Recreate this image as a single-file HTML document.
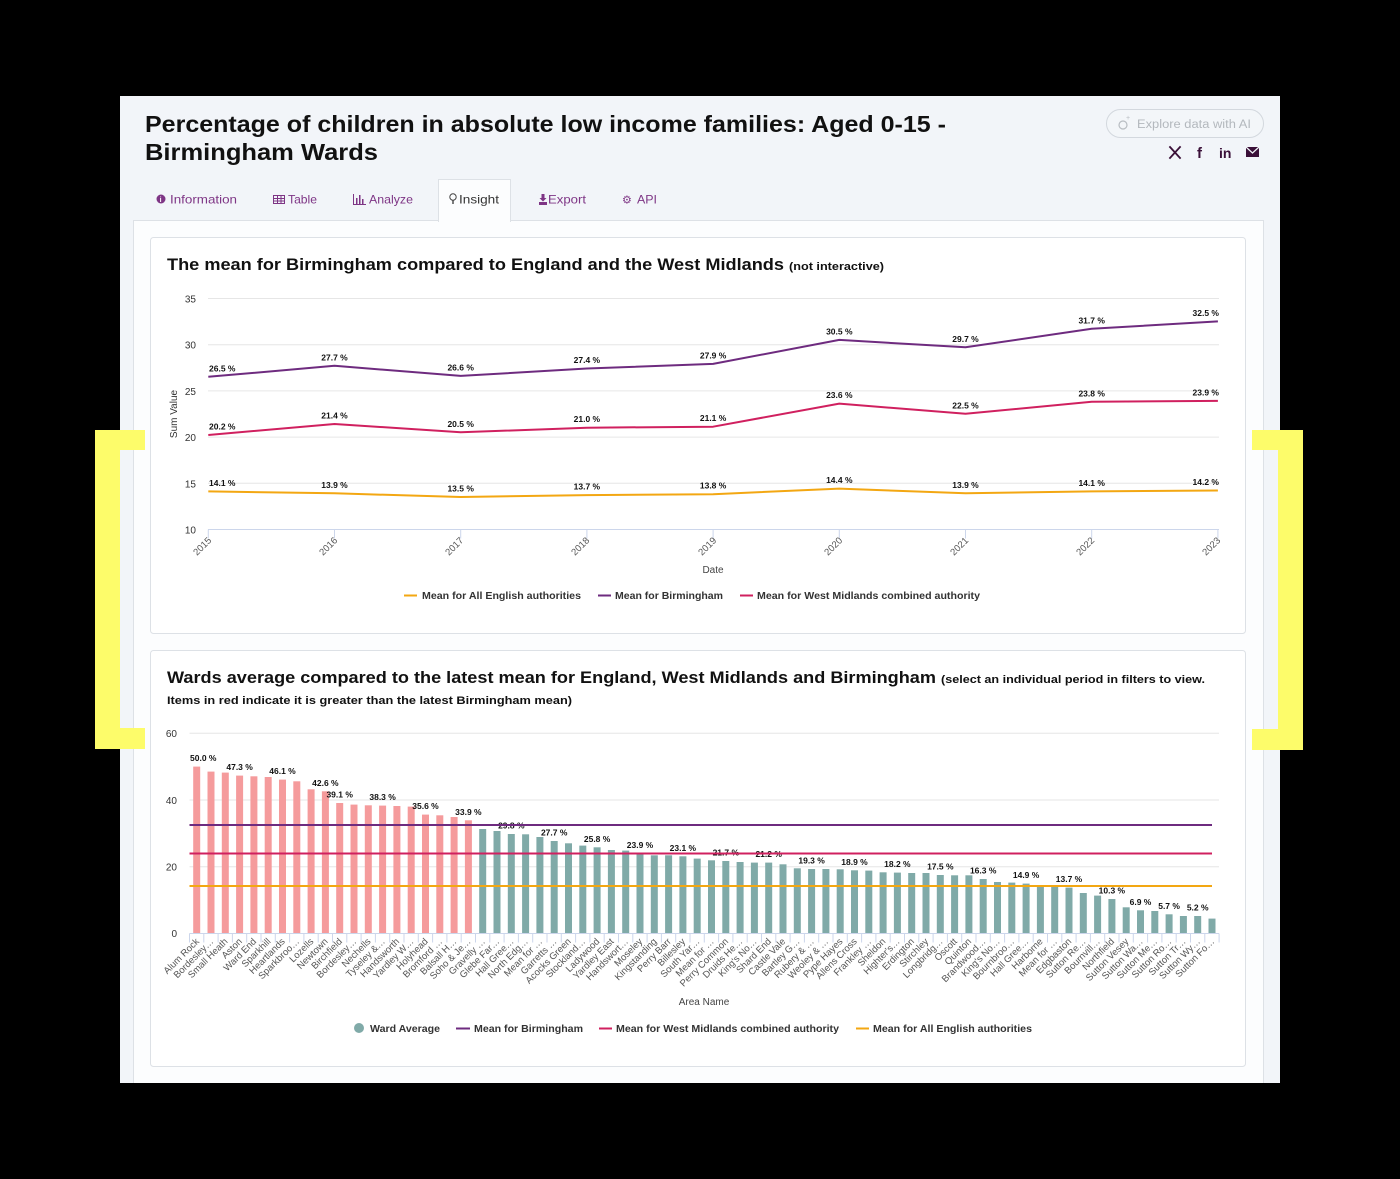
<!DOCTYPE html>
<html><head><meta charset="utf-8"><style>
html,body{margin:0;padding:0;background:#000;}
svg{display:block;}
</style></head><body>
<svg width="1400" height="1179" viewBox="0 0 1400 1179" xmlns="http://www.w3.org/2000/svg" font-family="'Liberation Sans', Arial, sans-serif">
<rect x="0" y="0" width="1400" height="1179" fill="#000"/>
<!-- main panel -->
<rect x="120" y="96" width="1160" height="987" fill="#f2f5f9"/>
<!-- content box -->
<rect x="133.5" y="220.5" width="1130" height="880" fill="#fcfdfe" stroke="#dde1e6"/>
<!-- active tab -->
<rect x="438.5" y="179.5" width="72" height="42" fill="#fcfdfe" stroke="#dde1e6"/>
<rect x="439" y="219" width="71" height="4" fill="#fcfdfe"/>

<!-- title -->
<text x="145" y="132" font-size="23" font-weight="bold" fill="#111" textLength="801" lengthAdjust="spacingAndGlyphs">Percentage of children in absolute low income families: Aged 0-15 -</text>
<text x="145" y="160" font-size="23" font-weight="bold" fill="#111" textLength="233" lengthAdjust="spacingAndGlyphs">Birmingham Wards</text>

<!-- explore button -->
<rect x="1106.5" y="109.5" width="157" height="28" rx="14" fill="#f3f6f9" stroke="#d3d8de"/>
<circle cx="1123" cy="125" r="4" fill="none" stroke="#b8bdc2" stroke-width="1.2"/>
<text x="1126" y="120" font-size="7" fill="#b8bdc2">+</text>
<text x="1137" y="128" font-size="11.5" fill="#b3b8bd" textLength="114" lengthAdjust="spacingAndGlyphs">Explore data with AI</text>

<!-- social icons -->
<g stroke="#3a1038" stroke-width="1.8" stroke-linecap="square">
<line x1="1170" y1="147" x2="1180" y2="158"/>
<line x1="1180" y1="147" x2="1170" y2="158"/>
</g>
<text x="1197" y="158" font-size="15" font-weight="bold" fill="#3a1038">f</text>
<text x="1219" y="158" font-size="14" font-weight="bold" fill="#3a1038">in</text>
<rect x="1246" y="147" width="13" height="10" fill="#3a1038"/>
<path d="M1246,147 L1252.5,153 L1259,147" fill="none" stroke="#f2f5f9" stroke-width="1.2"/>

<!-- tabs -->
<g font-size="12" fill="#7e3585">
<circle cx="161" cy="199" r="4.5" fill="#7e3585"/>
<text x="159.6" y="202" font-size="7" font-weight="bold" fill="#fff">i</text>
<text x="170" y="203.5" textLength="67" lengthAdjust="spacingAndGlyphs">Information</text>
<rect x="273.5" y="195.5" width="11" height="8" fill="none" stroke="#7e3585"/>
<line x1="273.5" y1="198.5" x2="284.5" y2="198.5" stroke="#7e3585"/>
<line x1="273.5" y1="201" x2="284.5" y2="201" stroke="#7e3585"/>
<line x1="277.5" y1="195.5" x2="277.5" y2="203.5" stroke="#7e3585"/>
<line x1="281" y1="195.5" x2="281" y2="203.5" stroke="#7e3585"/>
<text x="288" y="203.5" textLength="29" lengthAdjust="spacingAndGlyphs">Table</text>
<path d="M353.5,194 V204.5 H366" fill="none" stroke="#7e3585"/>
<rect x="356" y="198" width="1.5" height="6" fill="#7e3585"/>
<rect x="359" y="195" width="1.5" height="9" fill="#7e3585"/>
<rect x="362" y="199" width="1.5" height="5" fill="#7e3585"/>
<text x="369" y="203.5" textLength="44" lengthAdjust="spacingAndGlyphs">Analyze</text>
<text x="548" y="203.5" textLength="38" lengthAdjust="spacingAndGlyphs">Export</text>
<path d="M539,202 H547 V205 H539 Z" fill="#7e3585"/>
<path d="M541.5,194 H544.5 V198 H546.5 L543,201.5 L539.5,198 H541.5 Z" fill="#7e3585"/>
<text x="622" y="203.5" font-family="'DejaVu Sans', sans-serif" font-size="11">⚙</text>
<text x="637" y="203.5" textLength="20" lengthAdjust="spacingAndGlyphs">API</text>
</g>
<circle cx="453" cy="197" r="3.2" fill="none" stroke="#444" stroke-width="1"/>
<line x1="453" y1="200.5" x2="453" y2="204" stroke="#444" stroke-width="1.4"/>
<text x="459" y="203.5" font-size="12" fill="#333" textLength="40" lengthAdjust="spacingAndGlyphs">Insight</text>

<!-- ============ CARD 1 ============ -->
<rect x="150.5" y="237.5" width="1095" height="396" rx="3" fill="#fff" stroke="#dde1e6"/>
<text x="167" y="270" font-size="16.5" font-weight="bold" fill="#111" textLength="617" lengthAdjust="spacingAndGlyphs">The mean for Birmingham compared to England and the West Midlands</text>
<text x="789" y="270" font-size="11" font-weight="bold" fill="#111" textLength="95" lengthAdjust="spacingAndGlyphs">(not interactive)</text>

<!-- gridlines -->
<g stroke="#e6e6e6" stroke-width="1">
<line x1="208" y1="298.5" x2="1219" y2="298.5"/>
<line x1="208" y1="344.7" x2="1219" y2="344.7"/>
<line x1="208" y1="390.9" x2="1219" y2="390.9"/>
<line x1="208" y1="437.1" x2="1219" y2="437.1"/>
<line x1="208" y1="483.3" x2="1219" y2="483.3"/>
</g>
<line x1="208" y1="529.5" x2="1219" y2="529.5" stroke="#ccd6eb"/>
<line x1="207.8" y1="534" x2="1220" y2="534" stroke="#ccd6eb" stroke-width="9" stroke-dasharray="1 125.2"/>

<g font-size="10" fill="#333" text-anchor="end">
<text x="196" y="302.5">35</text>
<text x="196" y="348.7">30</text>
<text x="196" y="394.9">25</text>
<text x="196" y="441.1">20</text>
<text x="196" y="487.3">15</text>
<text x="196" y="533.5">10</text>
</g>
<text transform="translate(177,414) rotate(-90)" font-size="10" fill="#333" text-anchor="middle">Sum Value</text>

<g font-size="9.5" fill="#555" text-anchor="end">
<text transform="translate(212,541) rotate(-45)">2015</text>
<text transform="translate(338,541) rotate(-45)">2016</text>
<text transform="translate(464,541) rotate(-45)">2017</text>
<text transform="translate(590,541) rotate(-45)">2018</text>
<text transform="translate(717,541) rotate(-45)">2019</text>
<text transform="translate(843,541) rotate(-45)">2020</text>
<text transform="translate(969,541) rotate(-45)">2021</text>
<text transform="translate(1095,541) rotate(-45)">2022</text>
<text transform="translate(1221,541) rotate(-45)">2023</text>
</g>
<text x="713" y="573" font-size="10" fill="#444" text-anchor="middle">Date</text>

<!-- series lines -->
<polyline fill="none" stroke="#6e2b7f" stroke-width="2" stroke-linejoin="round" points="208.3,376.8 334.5,365.8 460.7,375.9 586.9,368.5 713.1,363.9 839.3,339.9 965.5,347.3 1091.7,328.8 1217.9,321.4"/>
<polyline fill="none" stroke="#d0205f" stroke-width="2" stroke-linejoin="round" points="208.3,435.0 334.5,424.0 460.7,432.3 586.9,427.7 713.1,426.7 839.3,403.6 965.5,413.8 1091.7,401.8 1217.9,400.9"/>
<polyline fill="none" stroke="#f3a712" stroke-width="2" stroke-linejoin="round" points="208.3,491.4 334.5,493.3 460.7,497.0 586.9,495.1 713.1,494.2 839.3,488.6 965.5,493.3 1091.7,491.4 1217.9,490.5"/>

<g font-size="8.5" font-weight="bold" fill="#111" text-anchor="middle">
<text x="209" y="371.3" text-anchor="start">26.5 %</text>
<text x="334.5" y="360.3">27.7 %</text>
<text x="460.7" y="370.4">26.6 %</text>
<text x="586.9" y="363.0">27.4 %</text>
<text x="713.1" y="358.4">27.9 %</text>
<text x="839.3" y="334.4">30.5 %</text>
<text x="965.5" y="341.8">29.7 %</text>
<text x="1091.7" y="323.3">31.7 %</text>
<text x="1219" y="315.9" text-anchor="end">32.5 %</text>

<text x="209" y="429.5" text-anchor="start">20.2 %</text>
<text x="334.5" y="418.5">21.4 %</text>
<text x="460.7" y="426.8">20.5 %</text>
<text x="586.9" y="422.2">21.0 %</text>
<text x="713.1" y="421.2">21.1 %</text>
<text x="839.3" y="398.1">23.6 %</text>
<text x="965.5" y="408.3">22.5 %</text>
<text x="1091.7" y="396.3">23.8 %</text>
<text x="1219" y="395.4" text-anchor="end">23.9 %</text>

<text x="209" y="485.9" text-anchor="start">14.1 %</text>
<text x="334.5" y="487.8">13.9 %</text>
<text x="460.7" y="491.5">13.5 %</text>
<text x="586.9" y="489.6">13.7 %</text>
<text x="713.1" y="488.7">13.8 %</text>
<text x="839.3" y="483.1">14.4 %</text>
<text x="965.5" y="487.8">13.9 %</text>
<text x="1091.7" y="485.9">14.1 %</text>
<text x="1219" y="485.0" text-anchor="end">14.2 %</text>
</g>

<!-- legend 1 -->
<g font-size="10" font-weight="bold" fill="#333">
<line x1="404" y1="595.5" x2="417" y2="595.5" stroke="#f3a712" stroke-width="2"/>
<text x="422" y="599" textLength="159" lengthAdjust="spacingAndGlyphs">Mean for All English authorities</text>
<line x1="598" y1="595.5" x2="611" y2="595.5" stroke="#6e2b7f" stroke-width="2"/>
<text x="615" y="599" textLength="108" lengthAdjust="spacingAndGlyphs">Mean for Birmingham</text>
<line x1="740" y1="595.5" x2="753" y2="595.5" stroke="#d0205f" stroke-width="2"/>
<text x="757" y="599" textLength="223" lengthAdjust="spacingAndGlyphs">Mean for West Midlands combined authority</text>
</g>

<!-- ============ CARD 2 ============ -->
<rect x="150.5" y="650.5" width="1095" height="416" rx="3" fill="#fff" stroke="#dde1e6"/>
<text x="167" y="683" font-size="16.5" font-weight="bold" fill="#111" textLength="769" lengthAdjust="spacingAndGlyphs">Wards average compared to the latest mean for England, West Midlands and Birmingham</text>
<text x="941" y="683" font-size="11" font-weight="bold" fill="#111" textLength="264" lengthAdjust="spacingAndGlyphs">(select an individual period in filters to view.</text>
<text x="167" y="704" font-size="11" font-weight="bold" fill="#111" textLength="405" lengthAdjust="spacingAndGlyphs">Items in red indicate it is greater than the latest Birmingham mean)</text>

<g stroke="#e6e6e6">
<line x1="189.5" y1="733.3" x2="1219" y2="733.3"/>
<line x1="189.5" y1="800" x2="1219" y2="800"/>
<line x1="189.5" y1="866.7" x2="1219" y2="866.7"/>
</g>
<g font-size="10" fill="#333" text-anchor="end">
<text x="177" y="737">60</text>
<text x="177" y="804">40</text>
<text x="177" y="870.5">20</text>
<text x="177" y="937">0</text>
</g>

<!-- bars -->
<g fill="#f59b9c">
<rect x="193.2" y="766.6" width="7" height="166.7"/>
<rect x="207.5" y="771.6" width="7" height="161.7"/>
<rect x="221.8" y="772.6" width="7" height="160.7"/>
<rect x="236.1" y="775.6" width="7" height="157.7"/>
<rect x="250.4" y="776.3" width="7" height="157.0"/>
<rect x="264.7" y="777.0" width="7" height="156.3"/>
<rect x="279.0" y="779.6" width="7" height="153.7"/>
<rect x="293.3" y="781.3" width="7" height="152.0"/>
<rect x="307.6" y="789.3" width="7" height="144.0"/>
<rect x="321.9" y="791.3" width="7" height="142.0"/>
<rect x="336.2" y="803.0" width="7" height="130.3"/>
<rect x="350.5" y="804.6" width="7" height="128.7"/>
<rect x="364.8" y="805.3" width="7" height="128.0"/>
<rect x="379.1" y="805.6" width="7" height="127.7"/>
<rect x="393.4" y="806.0" width="7" height="127.3"/>
<rect x="407.7" y="806.6" width="7" height="126.7"/>
<rect x="422.0" y="814.6" width="7" height="118.7"/>
<rect x="436.3" y="815.3" width="7" height="118.0"/>
<rect x="450.6" y="817.0" width="7" height="116.3"/>
<rect x="464.9" y="820.3" width="7" height="113.0"/>
</g>
<g fill="#80aaa8">
<rect x="479.2" y="829.0" width="7" height="104.3"/>
<rect x="493.5" y="831.0" width="7" height="102.3"/>
<rect x="507.8" y="834.0" width="7" height="99.3"/>
<rect x="522.1" y="834.3" width="7" height="99.0"/>
<rect x="536.4" y="837.0" width="7" height="96.3"/>
<rect x="550.7" y="841.0" width="7" height="92.3"/>
<rect x="565.0" y="843.3" width="7" height="90.0"/>
<rect x="579.3" y="845.6" width="7" height="87.7"/>
<rect x="593.6" y="847.3" width="7" height="86.0"/>
<rect x="607.9" y="850.0" width="7" height="83.3"/>
<rect x="622.2" y="850.6" width="7" height="82.7"/>
<rect x="636.5" y="853.6" width="7" height="79.7"/>
<rect x="650.8" y="855.3" width="7" height="78.0"/>
<rect x="665.1" y="855.3" width="7" height="78.0"/>
<rect x="679.4" y="856.3" width="7" height="77.0"/>
<rect x="693.7" y="858.6" width="7" height="74.7"/>
<rect x="708.0" y="860.3" width="7" height="73.0"/>
<rect x="722.3" y="861.0" width="7" height="72.3"/>
<rect x="736.6" y="862.0" width="7" height="71.3"/>
<rect x="750.9" y="862.6" width="7" height="70.7"/>
<rect x="765.2" y="862.6" width="7" height="70.7"/>
<rect x="779.5" y="864.3" width="7" height="69.0"/>
<rect x="793.8" y="868.3" width="7" height="65.0"/>
<rect x="808.1" y="869.0" width="7" height="64.3"/>
<rect x="822.4" y="869.0" width="7" height="64.3"/>
<rect x="836.7" y="869.3" width="7" height="64.0"/>
<rect x="851.0" y="870.3" width="7" height="63.0"/>
<rect x="865.3" y="870.6" width="7" height="62.7"/>
<rect x="879.6" y="872.3" width="7" height="61.0"/>
<rect x="893.9" y="872.6" width="7" height="60.7"/>
<rect x="908.2" y="873.0" width="7" height="60.3"/>
<rect x="922.5" y="873.0" width="7" height="60.3"/>
<rect x="936.8" y="875.0" width="7" height="58.3"/>
<rect x="951.1" y="875.3" width="7" height="58.0"/>
<rect x="965.4" y="875.3" width="7" height="58.0"/>
<rect x="979.7" y="879.0" width="7" height="54.3"/>
<rect x="994.0" y="882.0" width="7" height="51.3"/>
<rect x="1008.3" y="882.6" width="7" height="50.7"/>
<rect x="1022.6" y="883.6" width="7" height="49.7"/>
<rect x="1036.9" y="885.3" width="7" height="48.0"/>
<rect x="1051.2" y="886.6" width="7" height="46.7"/>
<rect x="1065.5" y="887.6" width="7" height="45.7"/>
<rect x="1079.8" y="893.0" width="7" height="40.3"/>
<rect x="1094.1" y="895.6" width="7" height="37.7"/>
<rect x="1108.4" y="899.0" width="7" height="34.3"/>
<rect x="1122.7" y="907.3" width="7" height="26.0"/>
<rect x="1137.0" y="910.3" width="7" height="23.0"/>
<rect x="1151.3" y="911.0" width="7" height="22.3"/>
<rect x="1165.6" y="914.3" width="7" height="19.0"/>
<rect x="1179.9" y="916.0" width="7" height="17.3"/>
<rect x="1194.2" y="916.0" width="7" height="17.3"/>
<rect x="1208.5" y="918.6" width="7" height="14.7"/>
</g>

<!-- x axis -->
<line x1="189.5" y1="933.5" x2="1219" y2="933.5" stroke="#ccd6eb"/>
<line x1="189" y1="938" x2="1220" y2="938" stroke="#ccd6eb" stroke-width="9" stroke-dasharray="1 13.3"/>

<!-- bar data labels -->
<g font-size="8.5" font-weight="bold" fill="#111" text-anchor="middle">
<text x="190" y="761" text-anchor="start">50.0 %</text>
<text x="239.6" y="770.1">47.3 %</text>
<text x="282.5" y="774.1">46.1 %</text>
<text x="325.4" y="785.8">42.6 %</text>
<text x="339.7" y="797.5">39.1 %</text>
<text x="382.6" y="800.1">38.3 %</text>
<text x="425.5" y="809.1">35.6 %</text>
<text x="468.4" y="814.8">33.9 %</text>
<text x="511.3" y="828.5">29.8 %</text>
<text x="554.2" y="835.5">27.7 %</text>
<text x="597.1" y="841.8">25.8 %</text>
<text x="640.0" y="848.1">23.9 %</text>
<text x="682.9" y="850.8">23.1 %</text>
<text x="725.8" y="855.5">21.7 %</text>
<text x="768.7" y="857.1">21.2 %</text>
<text x="811.6" y="863.5">19.3 %</text>
<text x="854.5" y="864.8">18.9 %</text>
<text x="897.4" y="867.1">18.2 %</text>
<text x="940.3" y="869.5">17.5 %</text>
<text x="983.2" y="873.5">16.3 %</text>
<text x="1026.1" y="878.1">14.9 %</text>
<text x="1069.0" y="882.1">13.7 %</text>
<text x="1111.9" y="893.5">10.3 %</text>
<text x="1140.5" y="904.8">6.9 %</text>
<text x="1169.1" y="908.8">5.7 %</text>
<text x="1197.7" y="910.5">5.2 %</text>
</g>

<!-- horizontal mean lines -->
<line x1="189.5" y1="825" x2="1212" y2="825" stroke="#6e2b7f" stroke-width="2"/>
<line x1="189.5" y1="853.5" x2="1212" y2="853.5" stroke="#d0205f" stroke-width="2"/>
<line x1="189.5" y1="886" x2="1212" y2="886" stroke="#f3a712" stroke-width="2"/>

<!-- x labels -->
<g font-size="9.5" fill="#555" text-anchor="end">
<text transform="translate(199.7,942) rotate(-45)">Alum Rock</text>
<text transform="translate(214.0,942) rotate(-45)">Bordesley…</text>
<text transform="translate(228.3,942) rotate(-45)">Small Heath</text>
<text transform="translate(242.6,942) rotate(-45)">Aston</text>
<text transform="translate(256.9,942) rotate(-45)">Ward End</text>
<text transform="translate(271.2,942) rotate(-45)">Sparkhill</text>
<text transform="translate(285.5,942) rotate(-45)">Heartlands</text>
<text transform="translate(299.8,942) rotate(-45)">Sparkbroo…</text>
<text transform="translate(314.1,942) rotate(-45)">Lozells</text>
<text transform="translate(328.4,942) rotate(-45)">Newtown</text>
<text transform="translate(342.7,942) rotate(-45)">Birchfield</text>
<text transform="translate(357.0,942) rotate(-45)">Bordesley…</text>
<text transform="translate(371.3,942) rotate(-45)">Nechells</text>
<text transform="translate(385.6,942) rotate(-45)">Tyseley &amp;…</text>
<text transform="translate(399.9,942) rotate(-45)">Handsworth</text>
<text transform="translate(414.2,942) rotate(-45)">Yardley W…</text>
<text transform="translate(428.5,942) rotate(-45)">Holyhead</text>
<text transform="translate(442.8,942) rotate(-45)">Bromford …</text>
<text transform="translate(457.1,942) rotate(-45)">Balsall H…</text>
<text transform="translate(471.4,942) rotate(-45)">Soho &amp; Je…</text>
<text transform="translate(485.7,942) rotate(-45)">Gravelly …</text>
<text transform="translate(500.0,942) rotate(-45)">Glebe Far…</text>
<text transform="translate(514.3,942) rotate(-45)">Hall Gree…</text>
<text transform="translate(528.6,942) rotate(-45)">North Edg…</text>
<text transform="translate(542.9,942) rotate(-45)">Mean for …</text>
<text transform="translate(557.2,942) rotate(-45)">Garretts …</text>
<text transform="translate(571.5,942) rotate(-45)">Acocks Green</text>
<text transform="translate(585.8,942) rotate(-45)">Stockland…</text>
<text transform="translate(600.1,942) rotate(-45)">Ladywood</text>
<text transform="translate(614.4,942) rotate(-45)">Yardley East</text>
<text transform="translate(628.7,942) rotate(-45)">Handswort…</text>
<text transform="translate(643.0,942) rotate(-45)">Moseley</text>
<text transform="translate(657.3,942) rotate(-45)">Kingstanding</text>
<text transform="translate(671.6,942) rotate(-45)">Perry Barr</text>
<text transform="translate(685.9,942) rotate(-45)">Billesley</text>
<text transform="translate(700.2,942) rotate(-45)">South Yar…</text>
<text transform="translate(714.5,942) rotate(-45)">Mean for …</text>
<text transform="translate(728.8,942) rotate(-45)">Perry Common</text>
<text transform="translate(743.1,942) rotate(-45)">Druids He…</text>
<text transform="translate(757.4,942) rotate(-45)">King's No…</text>
<text transform="translate(771.7,942) rotate(-45)">Shard End</text>
<text transform="translate(786.0,942) rotate(-45)">Castle Vale</text>
<text transform="translate(800.3,942) rotate(-45)">Bartley G…</text>
<text transform="translate(814.6,942) rotate(-45)">Rubery &amp; …</text>
<text transform="translate(828.9,942) rotate(-45)">Weoley &amp; …</text>
<text transform="translate(843.2,942) rotate(-45)">Pype Hayes</text>
<text transform="translate(857.5,942) rotate(-45)">Allens Cross</text>
<text transform="translate(871.8,942) rotate(-45)">Frankley …</text>
<text transform="translate(886.1,942) rotate(-45)">Sheldon</text>
<text transform="translate(900.4,942) rotate(-45)">Highter's…</text>
<text transform="translate(914.7,942) rotate(-45)">Erdington</text>
<text transform="translate(929.0,942) rotate(-45)">Stirchley</text>
<text transform="translate(943.3,942) rotate(-45)">Longbridg…</text>
<text transform="translate(957.6,942) rotate(-45)">Oscott</text>
<text transform="translate(971.9,942) rotate(-45)">Quinton</text>
<text transform="translate(986.2,942) rotate(-45)">Brandwood…</text>
<text transform="translate(1000.5,942) rotate(-45)">King's No…</text>
<text transform="translate(1014.8,942) rotate(-45)">Bournbroo…</text>
<text transform="translate(1029.1,942) rotate(-45)">Hall Gree…</text>
<text transform="translate(1043.4,942) rotate(-45)">Harborne</text>
<text transform="translate(1057.7,942) rotate(-45)">Mean for …</text>
<text transform="translate(1072.0,942) rotate(-45)">Edgbaston</text>
<text transform="translate(1086.3,942) rotate(-45)">Sutton Re…</text>
<text transform="translate(1100.6,942) rotate(-45)">Bournvill…</text>
<text transform="translate(1114.9,942) rotate(-45)">Northfield</text>
<text transform="translate(1129.2,942) rotate(-45)">Sutton Vesey</text>
<text transform="translate(1143.5,942) rotate(-45)">Sutton Wa…</text>
<text transform="translate(1157.8,942) rotate(-45)">Sutton Me…</text>
<text transform="translate(1172.1,942) rotate(-45)">Sutton Ro…</text>
<text transform="translate(1186.4,942) rotate(-45)">Sutton Tr…</text>
<text transform="translate(1200.7,942) rotate(-45)">Sutton Wy…</text>
<text transform="translate(1215.0,942) rotate(-45)">Sutton Fo…</text>
</g>
<text x="704" y="1005" font-size="10" fill="#444" text-anchor="middle">Area Name</text>

<!-- legend 2 -->
<g font-size="10" font-weight="bold" fill="#333">
<circle cx="359" cy="1028" r="5" fill="#80aaa8"/>
<text x="370" y="1032" textLength="70" lengthAdjust="spacingAndGlyphs">Ward Average</text>
<line x1="456" y1="1028.5" x2="470" y2="1028.5" stroke="#6e2b7f" stroke-width="2"/>
<text x="474" y="1032" textLength="109" lengthAdjust="spacingAndGlyphs">Mean for Birmingham</text>
<line x1="599" y1="1028.5" x2="612" y2="1028.5" stroke="#d0205f" stroke-width="2"/>
<text x="616" y="1032" textLength="223" lengthAdjust="spacingAndGlyphs">Mean for West Midlands combined authority</text>
<line x1="856" y1="1028.5" x2="869" y2="1028.5" stroke="#f3a712" stroke-width="2"/>
<text x="873" y="1032" textLength="159" lengthAdjust="spacingAndGlyphs">Mean for All English authorities</text>
</g>

<!-- black bottom -->
<rect x="0" y="1083" width="1400" height="96" fill="#000"/>

<!-- yellow brackets -->
<g fill="#fdfc6a">
<rect x="95" y="430" width="25" height="319"/>
<rect x="95" y="430" width="50" height="20"/>
<rect x="95" y="728" width="50" height="21"/>
<rect x="1278" y="430" width="25" height="320"/>
<rect x="1252" y="430" width="51" height="20"/>
<rect x="1252" y="729" width="51" height="21"/>
</g>
</svg>
</body></html>
